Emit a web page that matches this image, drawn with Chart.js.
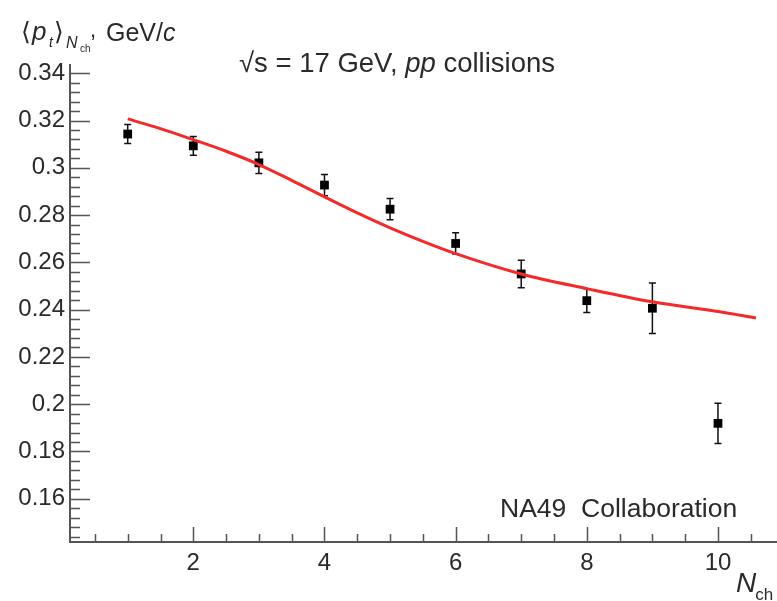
<!DOCTYPE html>
<html>
<head>
<meta charset="utf-8">
<script src="https://cdn.jsdelivr.net/npm/chart.js@4.4.1/dist/chart.umd.min.js"></script>
<style>
  html, body { margin: 0; padding: 0; background: #fff; }
  #wrap { position: relative; width: 777px; height: 601px; }
</style>
</head>
<body>
<div id="wrap"><canvas id="ptChart"></canvas></div>
<script>
// multiplicity bins and measured mean pt
const nch = [1, 2, 3, 4, 5, 6, 7, 8, 9, 10];
const meanPt = [0.3143, 0.3093, 0.3021, 0.2927, 0.2825, 0.268, 0.2551, 0.2438, 0.2406, 0.1919];
const ptErr = [0.004, 0.004, 0.0045, 0.0045, 0.0045, 0.0045, 0.0058, 0.005, 0.0107, 0.0085];

// model curve
const fitX = [1, 1.5, 2, 2.5, 3, 3.5, 4, 4.5, 5, 5.5, 6, 7, 8, 9, 10, 10.58];
const fitY = [0.3207, 0.3166, 0.3119, 0.307, 0.3014, 0.2947, 0.2877, 0.2809, 0.2746, 0.2689, 0.2637,
              0.2551, 0.2489, 0.2433, 0.2392, 0.2365];

const xTicks = [2, 4, 6, 8, 10];
const yTicks = [0.16, 0.18, 0.2, 0.22, 0.24, 0.26, 0.28, 0.3, 0.32, 0.34];

const FONT = "'Liberation Sans', Arial, Helvetica, sans-serif";
const INK = '#2a2a2a';
const AXIS = '#555';

Chart.defaults.font.family = FONT;
Chart.defaults.color = INK;

// vertical error bars under the markers
const errorBars = {
    id: 'errorBars',
    beforeDatasetsDraw(chart) {
        const ctx = chart.ctx;
        const x = chart.scales.x, y = chart.scales.y;
        ctx.save();
        ctx.strokeStyle = '#111';
        ctx.lineWidth = 1.5;
        nch.forEach((n, i) => {
            const px = x.getPixelForValue(n);
            const top = y.getPixelForValue(meanPt[i] + ptErr[i]);
            const bot = y.getPixelForValue(meanPt[i] - ptErr[i]);
            ctx.beginPath();
            ctx.moveTo(px, top); ctx.lineTo(px, bot);
            ctx.moveTo(px - 3.5, top); ctx.lineTo(px + 3.5, top);
            ctx.moveTo(px - 3.5, bot); ctx.lineTo(px + 3.5, bot);
            ctx.stroke();
        });
        ctx.restore();
    }
};

// inward major/minor ticks and the text around the frame
const decorations = {
    id: 'decorations',
    afterDraw(chart) {
        const ctx = chart.ctx;
        const area = chart.chartArea;
        const x = chart.scales.x, y = chart.scales.y;
        ctx.save();
        ctx.strokeStyle = AXIS;
        ctx.lineWidth = 1.5;
        ctx.beginPath();
        for (let v = 0.144; v <= 0.3435; v += 0.004) {
            const py = Math.round(y.getPixelForValue(v)) + 0.5;
            const major = Math.abs(v / 0.02 - Math.round(v / 0.02)) < 1e-6;
            ctx.moveTo(area.left, py);
            ctx.lineTo(area.left + (major ? 20 : 10), py);
        }
        for (let v = 0.5; v <= 10.9; v += 0.5) {
            const px = Math.round(x.getPixelForValue(v)) + 0.5;
            const major = v % 2 === 0;
            ctx.moveTo(px, area.bottom);
            ctx.lineTo(px, area.bottom - (major ? 15 : 8));
        }
        ctx.stroke();

        ctx.fillStyle = INK;
        ctx.textBaseline = 'alphabetic';
        ctx.textAlign = 'left';

        const put = (txt, px, py, size, italic) => {
            ctx.font = (italic ? 'italic ' : '') + size + 'px ' + FONT;
            ctx.fillText(txt, px, py);
            return px + ctx.measureText(txt).width;
        };

        // y title: <p_t>_{N_ch}, GeV/c
        put('\u27E8', 21, 40, 25, false);
        put('p', 32, 40, 26, true);
        put('t', 49, 47, 14, true);
        put('\u27E9', 54, 40, 25, false);
        put('N', 66, 48, 16, true);
        put('ch', 80, 52, 10, false);
        put(',', 90, 37, 22, false);
        let cx = put('GeV/', 106, 41, 25, false);
        put('c', cx, 41, 25, true);

        // top label
        cx = put('\u221As = 17 GeV, ', 239, 72, 27.5, false);
        cx = put('pp', cx, 72, 27.5, true);
        put(' collisions', cx, 72, 27.5, false);

        put('NA49  Collaboration', 500, 517, 26.5, false);

        // x title N_ch
        cx = put('N', 736, 592, 28, true);
        put('ch', cx - 1, 600, 17, false);
        ctx.restore();
    }
};

const ctx = document.getElementById('ptChart').getContext('2d');
const ptChart = new Chart(ctx, {
    type: 'scatter',
    data: {
        datasets: [
            {
                type: 'line',
                label: 'fit',
                data: fitX.map((v, i) => ({x: v, y: fitY[i]})),
                borderColor: '#f42a2a',
                borderWidth: 3,
                pointRadius: 0,
                cubicInterpolationMode: 'monotone',
                fill: false,
                order: 1
            },
            {
                label: 'NA49',
                data: nch.map((v, i) => ({x: v, y: meanPt[i]})),
                backgroundColor: '#000',
                borderColor: '#000',
                pointStyle: 'rect',
                pointRadius: 6.2,
                borderWidth: 0,
                order: 2
            }
        ]
    },
    options: {
        responsive: true,
        maintainAspectRatio: false,
        animation: false,
        layout: { autoPadding: false, padding: { top: 65, right: 0, left: 0, bottom: 0 } },
        plugins: {
            legend: { display: false },
            tooltip: { enabled: false }
        },
        scales: {
            x: {
                type: 'linear',
                min: 0.12,
                max: 10.9,
                grid: { display: false, drawTicks: false },
                border: { display: true, color: AXIS, width: 2 },
                afterBuildTicks: (scale) => { scale.ticks = xTicks.map(v => ({value: v})); },
                afterFit: (scale) => { scale.height = 59; },
                ticks: {
                    padding: 7,
                    color: INK,
                    font: { size: 24 },
                    callback: (v) => String(v)
                }
            },
            y: {
                type: 'linear',
                min: 0.1417,
                max: 0.3435,
                grid: { display: false, drawTicks: false },
                border: { display: true, color: AXIS, width: 2 },
                afterBuildTicks: (scale) => { scale.ticks = yTicks.map(v => ({value: v})); },
                afterFit: (scale) => { scale.width = 70; },
                ticks: {
                    padding: 5,
                    color: INK,
                    font: { size: 24 },
                    callback: (v) => String(+v.toFixed(2))
                }
            }
        }
    },
    plugins: [errorBars, decorations]
});
</script>
</body>
</html>
